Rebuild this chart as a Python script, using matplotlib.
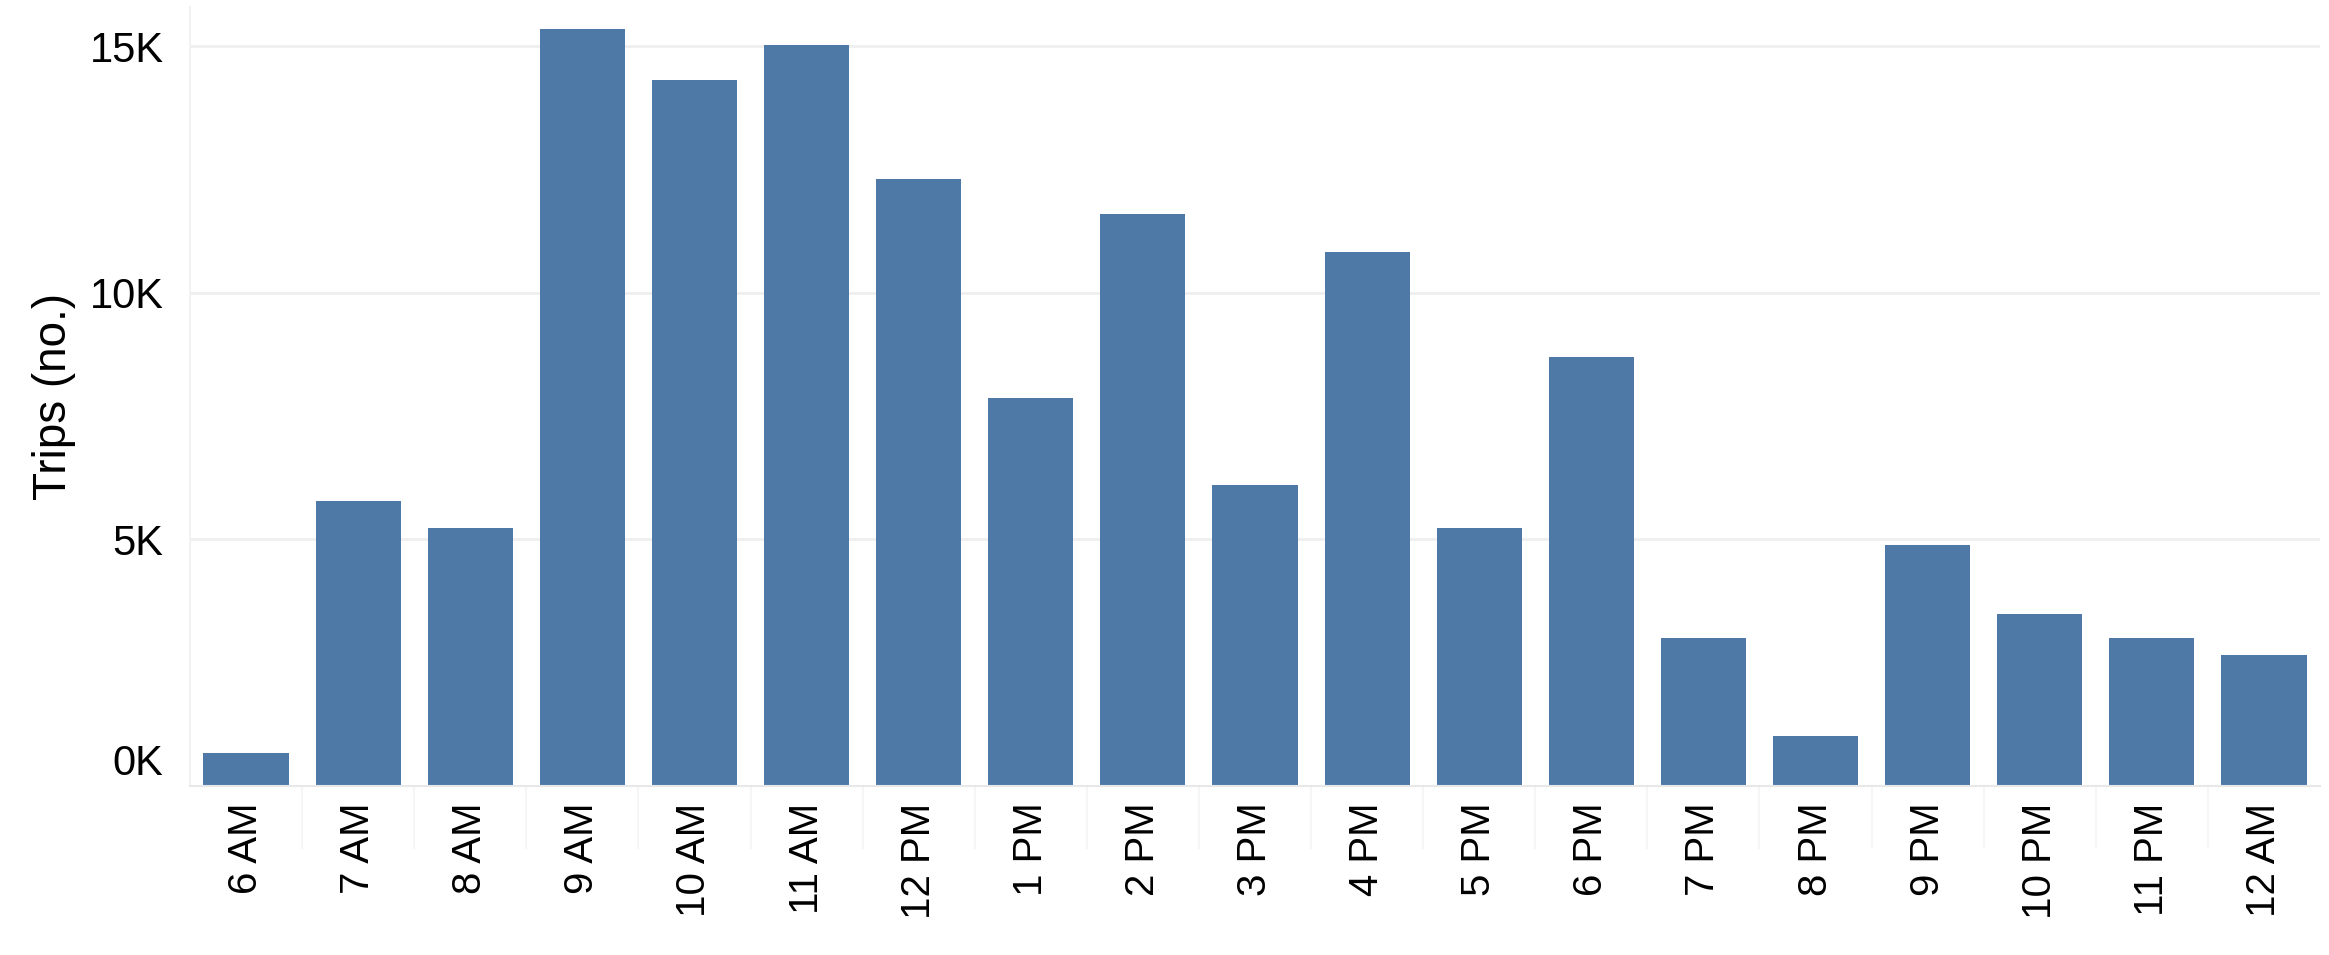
import matplotlib.pyplot as plt
import numpy as np
from matplotlib.ticker import FuncFormatter
import matplotlib.transforms as mtransforms

hours = ['6 AM', '7 AM', '8 AM', '9 AM', '10 AM', '11 AM', '12 PM', '1 PM', '2 PM',
         '3 PM', '4 PM', '5 PM', '6 PM', '7 PM', '8 PM', '9 PM', '10 PM', '11 PM', '12 AM']
trips = [660, 5780, 5240, 15360, 14310, 15030, 12320, 7860, 11600,
         6110, 10840, 5240, 8700, 3010, 1020, 4880, 3490, 3010, 2650]

bar_color = '#4e79a7'
grid_color = '#efefef'
fonts = ['Liberation Sans', 'DejaVu Sans']

fig = plt.figure(figsize=(23.29, 9.55), dpi=100)
ax = fig.add_axes([190 / 2329, 1 - 786 / 955, (2320 - 190) / 2329, (786 - 7) / 955])

x = np.arange(len(hours))
ax.bar(x, trips, width=0.76, color=bar_color, zorder=2)

ax.set_xlim(-0.5, len(hours) - 0.5)
ax.set_ylim(0, 15800)
ax.set_yticks([0, 5000, 10000, 15000])
ax.yaxis.set_major_formatter(FuncFormatter(lambda v, p: '%dK' % int(v / 1000)))
ax.grid(axis='y', color=grid_color, linewidth=2, zorder=0)

ax.set_xticks(x)
ax.set_xticklabels(hours, rotation=90, fontsize=29, family=fonts)
ax.tick_params(axis='x', length=0, pad=12)
ax.tick_params(axis='y', length=0, pad=19)
for lab in ax.get_yticklabels():
    lab.set_fontsize(30)
    lab.set_family(fonts)

# Tableau nudges the 0K label up
zero_lab = ax.get_yticklabels()[0]
zero_lab.set_transform(zero_lab.get_transform() +
                       mtransforms.ScaledTranslation(0, 19 / 72, fig.dpi_scale_trans))

# faint header dividers under the bars
ax.set_xticks(x[:-1] + 0.5, minor=True)
ax.tick_params(axis='x', which='minor', length=45, width=1.5, color='#f6f6f6')

ax.set_ylabel('Trips (no.)', fontsize=33, family=fonts, labelpad=10)

for side in ['top', 'right']:
    ax.spines[side].set_visible(False)
ax.spines['left'].set_color('#f2f2f2')
ax.spines['left'].set_linewidth(1.5)
ax.spines['bottom'].set_color('#e8e8e8')
ax.spines['bottom'].set_linewidth(1.5)

fig.savefig('out.png', dpi=100, facecolor='white')
